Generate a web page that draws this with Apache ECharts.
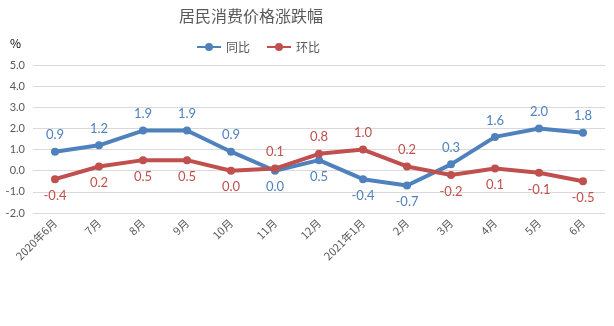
<!DOCTYPE html>
<html><head><meta charset="utf-8">
<script src="https://cdn.jsdelivr.net/npm/echarts@6/dist/echarts.min.js"></script>
<style>html,body{margin:0;padding:0;background:#fff}#c{width:614px;height:326px}</style>
</head><body><div id="c"></div>
<script>
const categories = ['2020年6月','7月','8月','9月','10月','11月','12月','2021年1月','2月','3月','4月','5月','6月'];
const yoy = [0.9,1.2,1.9,1.9,0.9,0.0,0.5,-0.4,-0.7,0.3,1.6,2.0,1.8];
const mom = [-0.4,0.2,0.5,0.5,0.0,0.1,0.8,1.0,0.2,-0.2,0.1,-0.1,-0.5];
const yoyLabelPos = ['top','top','top','top','top','bottom','bottom','bottom','bottom','top','top','top','top'];
const momLabelPos = ['bottom','bottom','bottom','bottom','bottom','top','top','top','top','bottom','bottom','bottom','bottom'];

const numFont = 'Lato, "Noto Sans CJK SC", sans-serif';
const cjkFont = '"Noto Sans CJK SC", sans-serif';
const blue = '#4F81BD', red = '#C0504D';

function mk(vals, pos){
  return vals.map((v,i)=>({value:v,label:{position:pos[i]}}));
}
const chart = echarts.init(document.getElementById('c'));
chart.setOption({
  animation:false,
  title:{text:'居民消费价格涨跌幅',left:246,textAlign:'center',top:3,
    textStyle:{fontFamily:cjkFont,fontSize:16,fontWeight:'normal',color:'#595959'}},
  legend:{left:191,top:36,itemWidth:24,itemHeight:10,itemGap:16,
    textStyle:{fontFamily:cjkFont,fontSize:12,color:'#595959'},
    data:['同比','环比']},
  graphic:[{type:'text',left:10,top:37,style:{text:'%',font:'12px '+cjkFont,fill:'#000'}}],
  grid:{left:33,right:9,top:65,bottom:113,containLabel:false},
  xAxis:{type:'category',data:categories,boundaryGap:true,
    axisLine:{lineStyle:{color:'#d9d9d9'}},axisTick:{show:false},
    axisLabel:{rotate:45,fontFamily:cjkFont,fontSize:11,color:'#595959',margin:8,interval:0}},
  yAxis:{type:'value',min:-2,max:5,interval:1,
    axisLabel:{formatter:v=>v.toFixed(1),fontFamily:numFont,fontSize:11,color:'#595959',margin:8},
    axisLine:{show:false},axisTick:{show:false},
    splitLine:{lineStyle:{color:'#d9d9d9'}}},
  series:[
    {name:'同比',type:'line',data:mk(yoy,yoyLabelPos),color:blue,
     lineStyle:{width:4,color:blue},symbol:'circle',symbolSize:8,itemStyle:{color:blue},
     label:{show:true,formatter:p=>p.value.toFixed(1),distance:6,
       fontFamily:numFont,fontSize:13,color:blue}},
    {name:'环比',type:'line',data:mk(mom,momLabelPos),color:red,
     lineStyle:{width:4,color:red},symbol:'circle',symbolSize:8,itemStyle:{color:red},
     label:{show:true,formatter:p=>p.value.toFixed(1),distance:6,
       fontFamily:numFont,fontSize:13,color:red}}
  ]
});
</script></body></html>
